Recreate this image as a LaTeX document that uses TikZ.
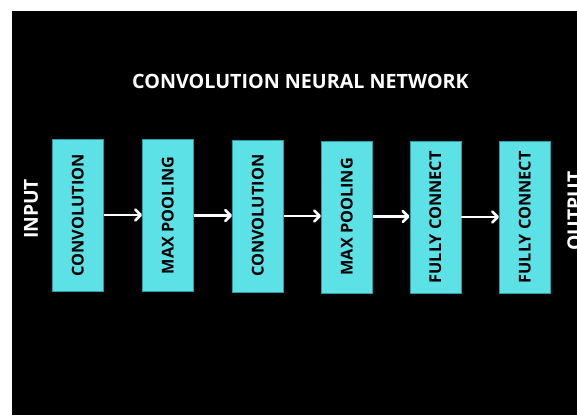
\documentclass[tikz,border=0pt]{standalone}
\usepackage{fontspec}
\setmainfont{Open Sans}
\usetikzlibrary{arrows.meta}
\definecolor{boxcyan}{HTML}{5CE1E6}
\definecolor{boxedge}{HTML}{2B9CA1}
\tikzset{
  layerbox/.style={fill=boxcyan, draw=boxedge, line width=0.6pt, minimum width=51pt, minimum height=152pt, inner sep=0pt, anchor=north west},
  layertext/.style={rotate=90, font=\fontsize{16.3}{18}\selectfont\bfseries, text=black, inner sep=0pt},
  sidetext/.style={rotate=90, font=\fontsize{19.3}{21}\selectfont\bfseries, text=white, inner sep=0pt},
  flow/.style={draw=white, line width=2.6pt, -{Straight Barb[length=5.5pt, width=11pt, line cap=round, line join=round]}}
}
\begin{document}
\begin{tikzpicture}[x=1pt, y=-1pt]
\useasboundingbox (0,0) rectangle (577,415);
\fill[white] (0,0) rectangle (577,415);
\fill[black] (12,11) rectangle (577,415);
\begin{scope}
\clip (12,11) rectangle (577,415);
\node[font=\fontsize{19.7}{21}\selectfont\bfseries, text=white, inner sep=0pt] (title) at (300.5,81) {CONVOLUTION NEURAL NETWORK};
\node[layerbox] (b1) at (52,139) {};
\node[layerbox] (b2) at (142,139) {};
\node[layerbox] (b3) at (232,139.5) {};
\node[layerbox] (b4) at (321,140.5) {};
\node[layerbox] (b5) at (409.5,141) {};
\node[layerbox] (b6) at (499,141) {};
\node[layertext] (t1) at (b1.center) {CONVOLUTION};
\node[layertext] (t2) at (b2.center) {MAX POOLING};
\node[layertext] (t3) at (b3.center) {CONVOLUTION};
\node[layertext] (t4) at (b4.center) {MAX POOLING};
\node[layertext] (t5) at (b5.center) {FULLY CONNECT};
\node[layertext] (t6) at (b6.center) {FULLY CONNECT};
\node[sidetext] (in) at (31,209) {INPUT};
\node[sidetext] (out) at (574.5,211) {OUTPUT};
\draw[flow] (b1.east |- 0,215) -- (b2.west |- 0,215);
\draw[flow] (b2.east |- 0,215.5) -- (b3.west |- 0,215.5);
\draw[flow] (b3.east |- 0,216) -- (b4.west |- 0,216);
\draw[flow] (b4.east |- 0,216.5) -- (b5.west |- 0,216.5);
\draw[flow] (b5.east |- 0,217) -- (b6.west |- 0,217);
\end{scope}
\end{tikzpicture}
\end{document}
